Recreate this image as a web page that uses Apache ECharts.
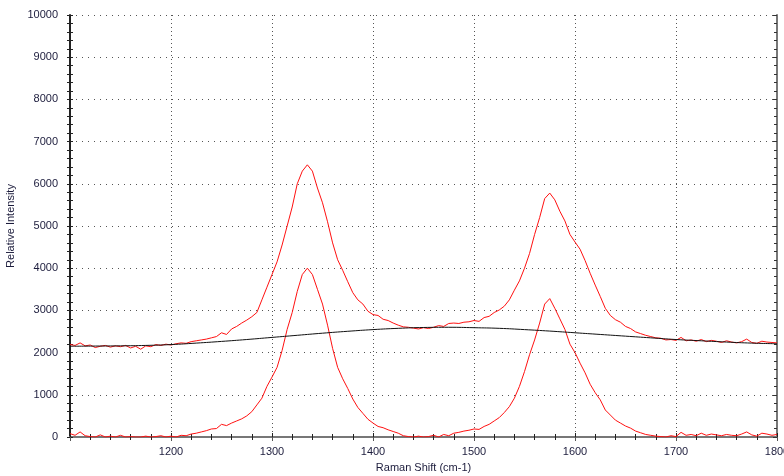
<!DOCTYPE html>
<html>
<head>
<meta charset="utf-8">
<script src="https://cdn.jsdelivr.net/npm/echarts@6/dist/echarts.min.js"></script>
<style>
html,body{margin:0;padding:0;background:#fff;}
#chart{width:784px;height:476px;}
</style>
</head>
<body>
<div id="chart"></div>
<script>
// Raman shift sample positions (cm-1), every 5 cm-1
const ramanShift = [];
for (let v = 1100; v <= 1800; v += 5) ramanShift.push(v);

// Raw spectrum (upper red)
const rawSpectrum = [
2190,2170,2230,2160,2180,2120,2150,2170,2130,2160,
2140,2170,2110,2150,2080,2160,2140,2190,2170,2200,
2180,2210,2230,2220,2260,2280,2300,2320,2350,2380,
2470,2430,2560,2620,2700,2770,2850,2950,3250,3550,
3850,4150,4550,5000,5450,6000,6300,6450,6300,5900,
5550,5100,4600,4200,3950,3680,3420,3250,3150,2980,
2900,2880,2790,2760,2700,2650,2610,2600,2580,2560,
2590,2570,2600,2640,2620,2690,2700,2690,2720,2730,
2760,2740,2830,2860,2950,3010,3100,3250,3480,3700,
4000,4350,4800,5200,5650,5780,5620,5350,5120,4800,
4620,4450,4180,3880,3600,3330,3050,2880,2780,2720,
2620,2570,2490,2450,2410,2380,2350,2340,2300,2310,
2290,2360,2280,2300,2270,2310,2260,2290,2270,2240,
2280,2250,2230,2260,2320,2240,2220,2270,2250,2240,
2230
];

// Baseline-corrected spectrum (lower red)
const correctedSpectrum = [
80,40,120,30,10,0,50,0,20,0,
40,0,10,0,0,20,0,10,30,0,
20,0,40,30,70,90,120,150,190,200,
300,270,330,380,430,500,600,760,920,1200,
1420,1650,2050,2550,2950,3450,3850,4000,3850,3500,
3150,2650,2100,1650,1380,1150,900,700,560,420,
330,250,220,170,130,90,30,10,0,20,
0,10,40,0,60,30,90,110,140,160,
190,180,250,300,380,460,580,720,920,1200,
1550,1950,2300,2700,3150,3280,3050,2800,2550,2200,
2000,1750,1520,1250,1050,880,640,520,400,330,
260,210,140,100,60,40,20,10,0,30,
10,110,40,60,30,90,40,70,50,30,
60,40,30,70,120,50,20,90,70,40,
60
];

// Fitted baseline (black)
const baselineShift = [1100,1125,1150,1175,1200,1225,1250,1275,1300,1325,1350,1375,1400,1425,1450,1475,1500,1525,1550,1575,1600,1625,1650,1675,1700,1725,1750,1775,1800];
const baselineValues = [2150,2155,2160,2170,2190,2225,2265,2310,2360,2410,2460,2505,2545,2575,2595,2600,2590,2575,2545,2510,2470,2430,2390,2350,2310,2280,2250,2225,2210];

const xTicks = {min: 1100, max: 1800, interval: 100};
const yTicks = {min: 0, max: 10000, interval: 1000};

const labelFont = {fontFamily: 'Liberation Sans, Arial, sans-serif', fontSize: 11, color: '#1c1c3c'};
const tickColor = '#222';
const plain = v => String(v);

function zip(xs, ys) { return xs.map((x, i) => [x, ys[i]]); }

const chart = echarts.init(document.getElementById('chart'), null, {renderer: 'canvas'});

chart.setOption({
  animation: false,
  backgroundColor: '#fff',
  grid: {left: 70, right: 7, top: 15, bottom: 39, containLabel: false, outerBoundsMode: 'none'},
  xAxis: [
    {
      type: 'value', position: 'bottom', min: xTicks.min, max: xTicks.max, interval: xTicks.interval,
      name: 'Raman Shift (cm-1)', nameLocation: 'middle', nameGap: 25,
      nameTextStyle: {fontFamily: labelFont.fontFamily, fontSize: 11, color: '#1c1c3c'},
      axisLine: {show: true, lineStyle: {color: tickColor, width: 2}},
      axisTick: {show: true, inside: false, length: 4, lineStyle: {color: tickColor}},
      minorTick: {show: true, splitNumber: 5, length: 3, lineStyle: {color: tickColor}},
      axisLabel: Object.assign({margin: 9, showMinLabel: false, formatter: plain}, labelFont),
      splitLine: {show: true, lineStyle: {color: '#555', width: 1, type: [1, 3]}}
    },
    {
      type: 'value', position: 'bottom', min: xTicks.min, max: xTicks.max, interval: xTicks.interval,
      axisLine: {show: false},
      axisTick: {show: true, inside: true, length: 4, lineStyle: {color: tickColor}},
      minorTick: {show: true, splitNumber: 5, length: 3, lineStyle: {color: tickColor}},
      axisLabel: {show: false}, splitLine: {show: false}
    },
    {
      type: 'value', position: 'top', min: xTicks.min, max: xTicks.max, interval: xTicks.interval,
      axisLine: {show: true, lineStyle: {color: '#777', width: 2}},
      axisTick: {show: true, inside: true, length: 4, lineStyle: {color: '#555'}},
      minorTick: {show: false},
      axisLabel: {show: false}, splitLine: {show: false}
    }
  ],
  yAxis: [
    {
      type: 'value', position: 'left', min: yTicks.min, max: yTicks.max, interval: yTicks.interval,
      name: 'Relative Intensity', nameLocation: 'middle', nameGap: 51, nameRotate: 90,
      nameTextStyle: {fontFamily: labelFont.fontFamily, fontSize: 11, color: '#1c1c3c'},
      axisLine: {show: true, lineStyle: {color: tickColor, width: 2}},
      axisTick: {show: true, inside: false, length: 3, lineStyle: {color: tickColor}},
      minorTick: {show: true, splitNumber: 5, length: 3, lineStyle: {color: tickColor}},
      axisLabel: Object.assign({margin: 12, formatter: plain}, labelFont),
      splitLine: {show: true, lineStyle: {color: '#555', width: 1, type: [1, 5]}}
    },
    {
      type: 'value', position: 'left', min: yTicks.min, max: yTicks.max, interval: yTicks.interval,
      axisLine: {show: false},
      axisTick: {show: true, inside: true, length: 3, lineStyle: {color: tickColor}},
      minorTick: {show: true, splitNumber: 5, length: 3, lineStyle: {color: tickColor}},
      axisLabel: {show: false}, splitLine: {show: false}
    },
    {
      type: 'value', position: 'right', min: yTicks.min, max: yTicks.max, interval: yTicks.interval,
      axisLine: {show: true, lineStyle: {color: '#777', width: 2}},
      axisTick: {show: true, inside: true, length: 4, lineStyle: {color: '#333'}},
      minorTick: {show: true, splitNumber: 5, length: 3, lineStyle: {color: '#333'}},
      axisLabel: {show: false}, splitLine: {show: false}
    }
  ],
  series: [
    {
      name: 'Baseline', type: 'line', xAxisIndex: 0, yAxisIndex: 0,
      data: zip(baselineShift, baselineValues), smooth: true, showSymbol: false,
      lineStyle: {color: '#111', width: 1}, z: 3
    },
    {
      name: 'Raw', type: 'line', xAxisIndex: 0, yAxisIndex: 0,
      data: zip(ramanShift, rawSpectrum), showSymbol: false,
      lineStyle: {color: '#ff1010', width: 1}, z: 2
    },
    {
      name: 'Corrected', type: 'line', xAxisIndex: 0, yAxisIndex: 0,
      data: zip(ramanShift, correctedSpectrum), showSymbol: false,
      lineStyle: {color: '#ff1010', width: 1}, z: 2
    }
  ]
});
</script>
</body>
</html>
